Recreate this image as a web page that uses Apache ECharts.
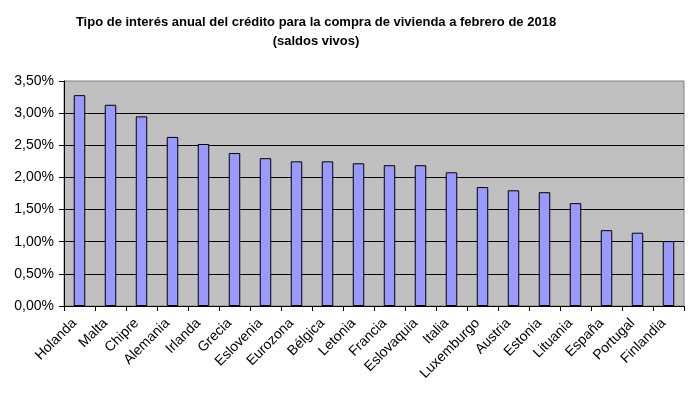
<!DOCTYPE html>
<html>
<head>
<meta charset="utf-8">
<script src="https://cdn.jsdelivr.net/npm/echarts@6/dist/echarts.min.js"></script>
<style>
  html, body { margin: 0; padding: 0; background: #fff; }
  #chart { width: 693px; height: 399px; }
</style>
</head>
<body>
<div id="chart"></div>
<script>
var paises = ['Holanda', 'Malta', 'Chipre', 'Alemania', 'Irlanda', 'Grecia', 'Eslovenia', 'Eurozona', 'Bélgica', 'Letonia',
  'Francia', 'Eslovaquia', 'Italia', 'Luxemburgo', 'Austria', 'Estonia', 'Lituania', 'España', 'Portugal', 'Finlandia']
var tipos = [3.28, 3.13, 2.95, 2.63, 2.52, 2.38, 2.30, 2.25, 2.25, 2.22,
  2.19, 2.19, 2.08, 1.85, 1.80, 1.77, 1.60, 1.18, 1.14, 1.01]
var yMin = 0
var yMax = 3.5
var yPaso = 0.5

var fuente = 'Liberation Sans, Arial, sans-serif'
var grafico = echarts.init(document.getElementById('chart'))
var option = {
  animation: false,
  title: {
    text: 'Tipo de interés anual del crédito para la compra de vivienda a febrero de 2018\n(saldos vivos)',
    left: 311,
    top: 8,
    textAlign: 'center',
    textStyle: {
      fontFamily: fuente,
      fontSize: 13,
      fontWeight: 'bold',
      color: '#000',
      lineHeight: 19,
      align: 'center'
    }
  },
  grid: {
    show: true,
    left: 64,
    right: 9,
    top: 81,
    bottom: 93,
    backgroundColor: '#C0C0C0',
    borderColor: '#808080',
    borderWidth: 1
  },
  xAxis: {
    type: 'category',
    data: paises,
    boundaryGap: true,
    axisLine: { show: true, lineStyle: { color: '#000', width: 1 } },
    axisTick: { show: true, alignWithLabel: false, length: 5, lineStyle: { color: '#000' } },
    axisLabel: {
      interval: 0,
      rotate: 45,
      margin: 10,
      padding: [0, 7, 0, 0],
      color: '#000',
      fontFamily: fuente,
      fontSize: 14
    },
    splitLine: { show: false }
  },
  yAxis: {
    type: 'value',
    min: yMin,
    max: yMax,
    interval: yPaso,
    axisLine: { show: true, lineStyle: { color: '#000', width: 1 } },
    axisTick: { show: true, length: 5, lineStyle: { color: '#000' } },
    axisLabel: {
      margin: 10,
      color: '#000',
      fontFamily: fuente,
      fontSize: 14,
      formatter: function (v) {
        return v.toFixed(2).replace('.', ',') + '%'
      }
    },
    splitLine: {
      show: true,
      showMaxLine: false,
      lineStyle: { color: '#000', width: 1 }
    }
  },
  series: [{
    type: 'bar',
    data: tipos,
    barCategoryGap: '63%',
    itemStyle: {
      color: '#9999FF',
      borderColor: '#000',
      borderWidth: 1
    }
  }]
}
grafico.setOption(option)
</script>
</body>
</html>
